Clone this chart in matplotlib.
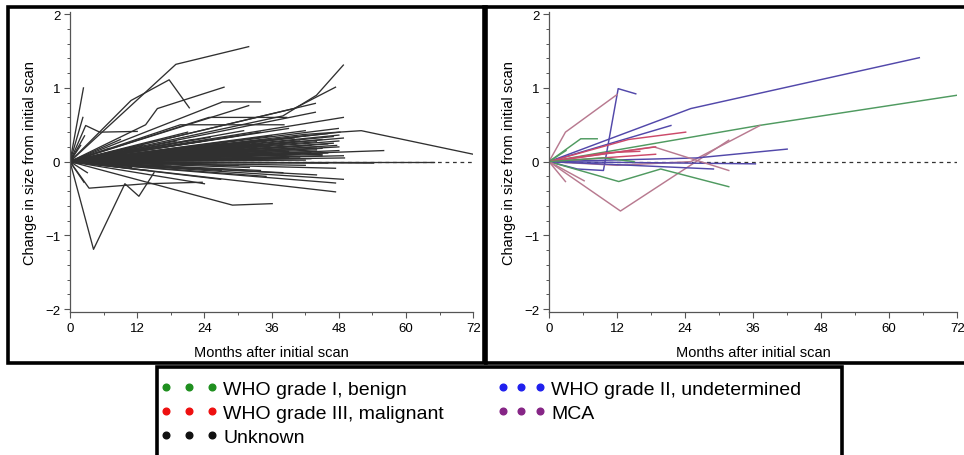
import numpy as np
import matplotlib
matplotlib.use("Agg")
from matplotlib import pyplot as plt
from matplotlib.patches import Rectangle
from matplotlib.lines import Line2D
from matplotlib.ticker import MultipleLocator

plt.rcParams['font.family'] = ['Liberation Sans', 'DejaVu Sans']

# ---------------------------------------------------------------- data
# left panel: all tumours, straight trajectories from the initial scan (end month, end change)
fan_months = [2.4, 2.3, 2.6, 1.9, 3.1, 2.5,
              7, 9, 10, 11, 12, 13, 14, 15,
              17, 18, 19, 20, 21, 22, 23, 24, 24, 25, 26, 26.9, 27, 28,
              29, 30, 30, 31, 31.9, 32, 33, 34, 34, 35, 36, 36, 37, 38, 38, 39, 40,
              41, 41, 42, 42, 43, 43.8, 43.8, 44, 44, 45, 45, 46, 46, 47, 47.4,
              47.4, 47.4, 47.6, 47.9, 48.2, 48.8, 48.8, 48.8, 48.8, 48, 56, 54.2,
              16, 20, 22, 25, 28, 33, 36, 40, 44, 46, 30, 35, 39, 43, 48]
fan_values = [1.0, 0.6, 0.35, 0.22, -0.15, -0.28,
              0.18, 0.3, 0.12, -0.08, 0.05, 0.22, -0.12, 0.08,
              0.15, -0.06, 0.28, 0.1, 0.4, -0.1, 0.2, -0.3, 0.05, 0.33, 0.15, -0.24, 0.02, 0.25,
              0.12, 0.35, -0.05, 0.2, 0.76, 0.05, 0.28, -0.12, 0.4, 0.15, 0.22, 0.0, 0.3, -0.15, 0.1, 0.45, 0.18,
              0.05, 0.28, 0.35, -0.05, 0.12, 0.67, 0.79, 0.2, -0.18, 0.3, 0.08, 0.38, -0.02, 0.25, -0.09,
              -0.29, -0.41, 0.22, 0.45, 0.40, 0.32, 0.6, 0.08, -0.24, 0.15, 0.15, -0.02,
              0.06, 0.18, 0.12, 0.2, 0.08, 0.17, 0.1, 0.26, 0.16, 0.12, 0.24, 0.3, 0.06, 0.22, 0.28]

# left panel: the dark core of slowly changing tumours
dense_months = [20, 21, 22, 23, 24, 25, 26, 27, 28, 29, 30, 31, 32, 33, 34,
                35, 36, 37, 38, 39, 40, 41, 42, 43, 44, 45, 46, 47, 48, 49,
                24, 26, 28, 30, 32, 34, 36, 38, 40, 42, 44, 46, 48,
                18, 22, 27, 31, 35, 42, 45]
dense_values = [0.08, 0.14, 0.02, 0.1, 0.18, 0.06, 0.22, 0.12, 0.04, 0.2, 0.16, 0.09, 0.25, 0.03, 0.18,
                0.28, 0.12, 0.06, 0.2, 0.14, 0.32, 0.1, 0.22, 0.04, 0.27, 0.18, 0.12, 0.34, 0.2, 0.05,
                0.28, 0.0, 0.18, 0.08, -0.08, 0.24, 0.35, 0.2, 0.1, 0.42, 0.14, 0.24, 0.36,
                0.24, 0.3, -0.12, 0.42, -0.2, 0.02, 0.1]

# left panel: trajectories with several follow-up scans
bent_months = [[0, 18.9, 31.9], [0, 10.9, 17.7, 21.3], [0, 2.8, 5.3, 12],
               [0, 13.5, 15.6, 27.5], [0, 27.2, 34], [0, 24.8, 38.7], [0, 19.7, 38.2],
               [0, 38, 44, 48.8], [0, 40, 47.4], [0, 42, 52, 72], [0, 65],
               [0, 29, 36.1], [0, 4.2, 9.8, 12.3, 15], [0, 3.4, 13.5, 23.6]]
bent_values = [[0, 1.32, 1.56], [0, 0.83, 1.11, 0.73], [0, 0.49, 0.40, 0.41],
               [0, 0.5, 0.72, 1.01], [0, 0.81, 0.81], [0, 0.6, 0.6], [0, 0.5, 0.5],
               [0, 0.62, 0.9, 1.31], [0, 0.72, 1.01], [0, 0.37, 0.42, 0.10], [0, 0],
               [0, -0.59, -0.57], [0, -1.19, -0.3, -0.47, -0.15], [0, -0.36, -0.3, -0.28]]

# right panel: histologically confirmed tumours
right_groups = ['II', 'I', 'II', 'MCA', 'MCA', 'I', 'I', 'II', 'III', 'MCA',
                'II', 'II', 'MCA', 'III', 'III', 'II', 'MCA', 'MCA', 'I', 'III', 'I']
right_months = [[0, 25, 65.3], [0, 37, 71.9], [0, 5, 9.6, 12.2, 15.3], [0, 2.9, 12],
                [0, 12.6, 31.7], [0, 5.6, 8.5], [0, 12.3, 19.7, 31.7], [0, 21.5],
                [0, 14, 24.1], [0, 12, 25, 37.2], [0, 26, 42], [0, 36.4], [0, 18.5, 31.7],
                [0, 18.8], [0, 18.8], [0, 29], [0, 2.9], [0, 6.2], [0, 3], [0, 10, 16], [0, 9.6, 15]]
right_values = [[0, 0.72, 1.41], [0, 0.49, 0.90], [0, -0.1, -0.12, 0.99, 0.92], [0, 0.4, 0.91],
                [0, -0.67, 0.29], [0, 0.31, 0.31], [0, -0.27, -0.1, -0.34], [0, 0.49],
                [0, 0.3, 0.4], [0, -0.05, 0.0, 0.49], [0, 0.05, 0.17], [0, -0.03], [0, 0.2, -0.12],
                [0, 0.2], [0, 0.1], [0, -0.1], [0, -0.27], [0, -0.26], [0, 0.15], [0, 0.12, 0.14], [0, 0.05, 0.0]]

legend_col1_keys = ['I', 'III', 'Unknown']
legend_col1_labels = ['WHO grade I, benign', 'WHO grade III, malignant', 'Unknown']
legend_col2_keys = ['II', 'MCA']
legend_col2_labels = ['WHO grade II, undetermined', 'MCA']

line_colors = {'I': '#4f9a60', 'II': '#5248aa', 'III': '#cc4a6a', 'MCA': '#b87a90', 'Unknown': '#222222'}
dot_colors = {'I': '#1f8f1f', 'II': '#2020ee', 'III': '#ee1010', 'MCA': '#862586', 'Unknown': '#111111'}

# ---------------------------------------------------------------- figure
W, H = 964, 456
fig = plt.figure(figsize=(W / 100, H / 100), dpi=100)


def px_box(x0, y0, x1, y1):
    return [x0 / W, 1 - y1 / H, (x1 - x0) / W, (y1 - y0) / H]


ax1 = fig.add_axes(px_box(70, 13, 473.3, 313))
ax2 = fig.add_axes(px_box(549, 13, 957.3, 313))


def style_axis(ax):
    ax.set_xlim(0, 72)
    ax.set_ylim(-2.04, 2.03)
    ax.spines['top'].set_visible(False)
    ax.spines['right'].set_visible(False)
    for s in ['left', 'bottom']:
        ax.spines[s].set_color('#555555')
        ax.spines[s].set_linewidth(0.9)
    ax.xaxis.set_major_locator(MultipleLocator(12))
    ax.xaxis.set_minor_locator(MultipleLocator(6))
    ax.yaxis.set_major_locator(MultipleLocator(1))
    ax.yaxis.set_minor_locator(MultipleLocator(0.2))
    ax.tick_params(which='major', direction='out', length=4, width=0.8, color='#555555',
                   labelsize=9.5, pad=3)
    ax.tick_params(which='minor', direction='out', length=2.5, width=0.7, color='#555555')
    ax.set_xlabel("Months after initial scan", fontsize=10.5, labelpad=8)
    ax.set_ylabel("Change in size from initial scan", fontsize=10.5, labelpad=6)
    ax.axhline(0, color='#333333', lw=0.9, ls=(0, (3, 3)), zorder=1)


style_axis(ax1)
style_axis(ax2)

for m, v in zip(fan_months + dense_months, fan_values + dense_values):
    ax1.plot([0, m], [0, v], color='#303030', lw=0.95, zorder=2)
for m, v in zip(bent_months, bent_values):
    ax1.plot(m, v, color='#303030', lw=0.95, zorder=2)

for g, m, v in zip(right_groups, right_months, right_values):
    ax2.plot(m, v, color=line_colors[g], lw=1.05, zorder=2)

# panel frames
for box in [(8, 8, 486, 364), (484, 8, 970, 364), (157, 368, 842, 470)]:
    fig.add_artist(Rectangle((box[0] / W, 1 - box[3] / H), (box[2] - box[0]) / W,
                             (box[3] - box[1]) / H, transform=fig.transFigure,
                             fill=False, lw=2.6, ec='black', zorder=10))

# legend, one block per column
for keys, labels, x0, hl in [(legend_col1_keys, legend_col1_labels, 160, 2.95),
                             (legend_col2_keys, legend_col2_labels, 497, 2.5)]:
    handles = [Line2D([], [], ls='None', marker='o', ms=4.8, color=dot_colors[k]) for k in keys]
    leg = fig.legend(handles, labels, ncol=1, numpoints=3, frameon=False,
                     loc='upper left', bbox_to_anchor=(x0 / W, 1 - 381 / H),
                     borderpad=0, borderaxespad=0, handlelength=hl, handletextpad=0.3,
                     labelspacing=0.34, fontsize=14)

fig.savefig("out.png", dpi=100)
